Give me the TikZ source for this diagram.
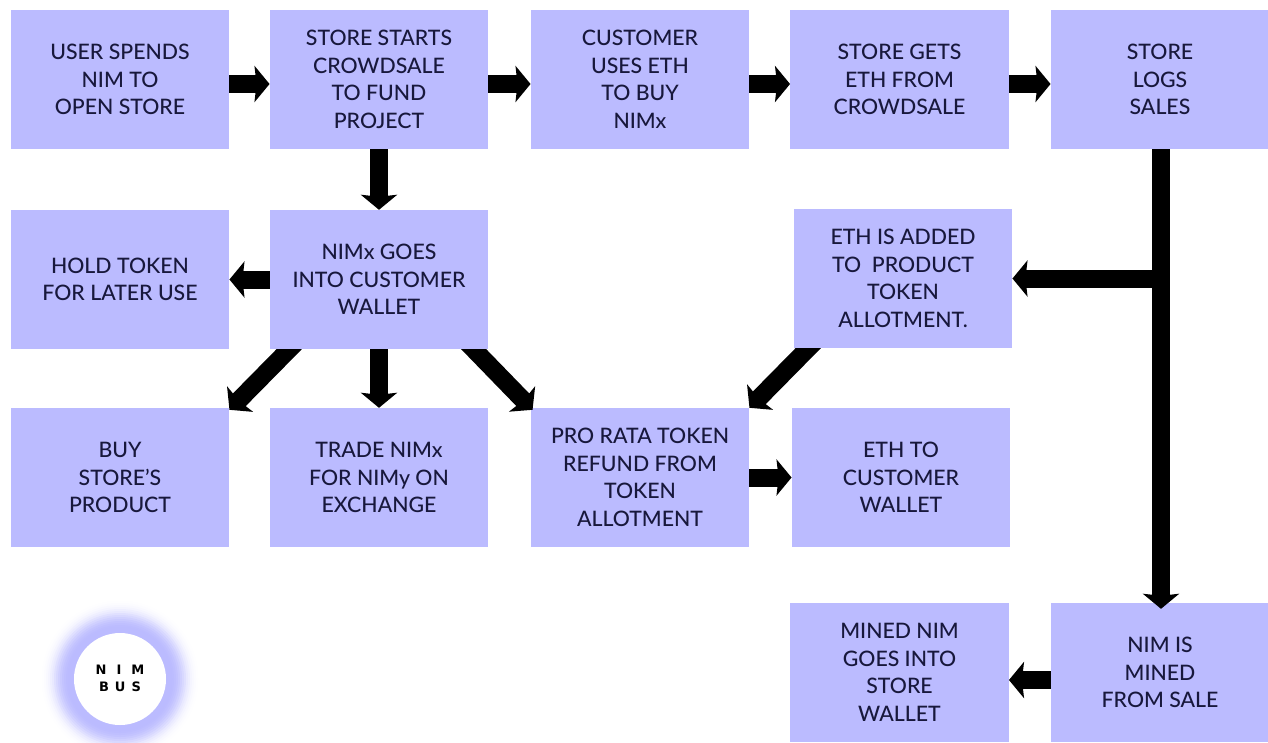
\documentclass[tikz,border=0pt]{standalone}
\usepackage{fontspec}
\setmainfont{Lato Medium}
\newfontfamily\logofont{DejaVu Sans}
\usetikzlibrary{arrows.meta}
\definecolor{boxfill}{HTML}{BBBBFF}
\definecolor{boxtext}{HTML}{18183C}
\tikzset{
  stepbox/.style={fill=boxfill,text=boxtext,inner sep=0pt,minimum width=218.5pt,minimum height=139pt,
    align=center,font=\fontsize{21.3}{27.5}\selectfont},
  flow/.style={line width=18pt,draw=black,-{Stealth[length=15pt,width=36pt,inset=2pt]}},
}
\begin{document}
\begin{tikzpicture}[x=1pt,y=-1pt]
\useasboundingbox (0,0) rectangle (1268,742);
\fill[white] (0,0) rectangle (1268,742);
% row 1
\node[stepbox] (user) at (120,79.5) {USER SPENDS\\NIM TO\\OPEN STORE};
\node[stepbox] (crowd) at (379,79.5) {STORE STARTS\\CROWDSALE\\TO FUND\\PROJECT};
\node[stepbox] (cust) at (640,79.5) {CUSTOMER\\USES ETH\\TO BUY\\NIMx};
\node[stepbox] (gets) at (899.5,79.5) {STORE GETS\\ETH FROM\\CROWDSALE};
\node[stepbox] (logs) at (1160,79.5) {STORE\\LOGS\\SALES};
% row 2
\node[stepbox] (hold) at (120,279.5) {HOLD TOKEN\\FOR LATER USE};
\node[stepbox] (wallet) at (379,279.5) {NIMx GOES\\INTO CUSTOMER\\WALLET};
\node[stepbox] (added) at (903,278.5) {ETH IS ADDED\\TO\ \ PRODUCT\\TOKEN\\ALLOTMENT.};
% row 3
\node[stepbox] (buy) at (120,477.5) {BUY\\STORE'S\\PRODUCT};
\node[stepbox] (trade) at (379,477.5) {TRADE NIMx\\FOR NIMy ON\\EXCHANGE};
\node[stepbox] (refund) at (640,477.5) {PRO RATA TOKEN\\REFUND FROM\\TOKEN\\ALLOTMENT};
\node[stepbox] (ethw) at (901,477.5) {ETH TO\\CUSTOMER\\WALLET};
% row 4
\node[stepbox] (minedw) at (899.5,672.5) {MINED NIM\\GOES INTO\\STORE\\WALLET};
\node[stepbox] (mined) at (1160,672.5) {NIM IS\\MINED\\FROM SALE};
% logo
\begin{scope}
\clip (0,580) rectangle (260,742);
\foreach \r/\m in {80/0,78/2,76/5,74/9,72/15,70/23,68/33,66/45,64/57,62/69,60/79,58/88,56/94,54/98,52/100}{
  \fill[boxfill!\m!white] (120,679) circle[radius=\r];
}
\end{scope}
\node[circle,fill=white,minimum size=92pt,inner sep=0pt] (logo) at (120,679) {};
\node[inner sep=0pt,align=center,text=black,font=\logofont\bfseries\fontsize{13}{17}\selectfont] (logotext) at ([yshift=0.5pt]logo.center) {N\hspace{10pt}I\hspace{10pt}M\\B\hspace{6pt}U\hspace{6pt}S};
\coordinate (junction) at (1161,278.5);
% connectors
\draw[flow] ([yshift=-4.5pt]user.east) -- ([yshift=-4.5pt]crowd.west);
\draw[flow] ([yshift=-4.5pt]crowd.east) -- ([yshift=-4.5pt]cust.west);
\draw[flow] ([yshift=-4.5pt]cust.east) -- ([yshift=-4.5pt]gets.west);
\draw[flow] ([yshift=-4.5pt]gets.east) -- ([yshift=-4.5pt]logs.west);
\draw[flow] (crowd.south) -- (wallet.north);
\draw[flow] (wallet.west) -- (hold.east);
\draw[flow] (wallet.south) -- (trade.north);
\draw[flow] (refund.east) -- (ethw.west);
\draw[flow] ([xshift=1pt]logs.south) -- ([xshift=1pt,yshift=-6pt]mined.north);
\draw[flow] (junction) -- (added.east);
\draw[flow] ([yshift=-7.5pt]mined.west) -- ([yshift=-7.5pt]minedw.east);
\begin{scope}
\clip (0,349) rectangle (1268,420);
\draw[flow] ([xshift=-80pt,yshift=10pt]wallet.south) -- ([yshift=-2pt]buy.north east);
\draw[flow] ([xshift=85pt,yshift=10pt]wallet.south) -- ([xshift=2pt,yshift=-2pt]refund.north west);
\end{scope}
\begin{scope}
\clip (0,348) rectangle (1268,420);
\draw[flow] ([xshift=-85pt,yshift=10pt]added.south) -- (refund.north east);
\end{scope}
\end{tikzpicture}
\end{document}
